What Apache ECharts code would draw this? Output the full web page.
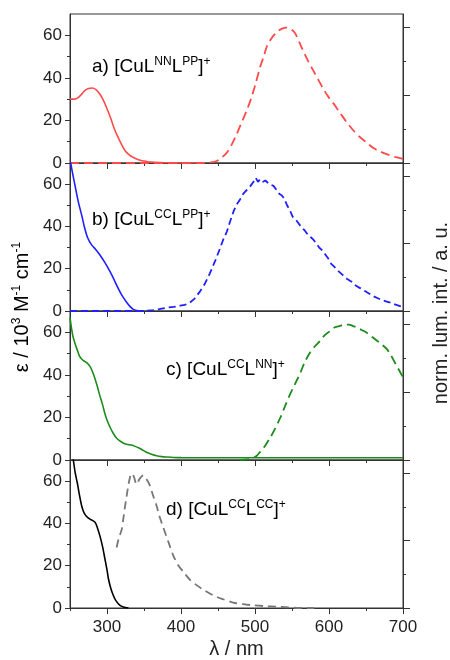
<!DOCTYPE html>
<html>
<head>
<meta charset="utf-8">
<script src="https://cdn.jsdelivr.net/npm/echarts@6.0.0/dist/echarts.min.js"></script>
<style>
html, body { margin: 0; padding: 0; background: #fff; }
#chart { width: 450px; height: 660px; }
</style>
</head>
<body>
<div id="chart"></div>
<script>
// ---- data ----
// x axis ticks
var xLabelTicks = [300, 400, 500, 600, 700];
var xMinorTicks = [250, 350, 450, 550, 650];
var yLabelTicks = [0, 20, 40, 60];
var rightMajorTicks = [0, 0.5, 1];

// a) [CuL(NN)L(PP)]+  absorption (eps / 10^3 M-1 cm-1) and emission (normalised)
var absA_nm  = [250, 255, 260, 265, 270, 275, 280, 285, 290, 295, 300, 305, 310, 315, 320, 325, 330, 335, 340, 345, 350, 355, 360, 370, 380, 400, 420];
var absA_eps = [30, 30, 30.5, 32, 34, 35, 35.2, 34.5, 32.5, 29.5, 25.5, 21, 16, 12, 8.5, 5.5, 3.8, 2.7, 1.9, 1.3, 0.9, 0.6, 0.4, 0.2, 0.1, 0, 0];
var emA_nm  = [250, 300, 350, 400, 430, 440, 448, 455, 462, 468, 475, 482, 489, 495, 500, 507, 512, 516, 521, 525, 530, 536, 542, 548, 554, 560, 565, 572, 579, 586, 592, 599, 606, 615, 624, 633, 642, 651, 660, 669, 678, 689, 700];
var emA_int = [0, 0, 0, 0, 0, 0.005, 0.015, 0.04, 0.077, 0.13, 0.21, 0.3, 0.39, 0.48, 0.57, 0.71, 0.79, 0.86, 0.91, 0.94, 0.97, 0.99, 1.0, 0.99, 0.96, 0.89, 0.83, 0.75, 0.68, 0.61, 0.55, 0.49, 0.44, 0.37, 0.30, 0.24, 0.19, 0.15, 0.11, 0.085, 0.065, 0.045, 0.03];

// b) [CuL(CC)L(PP)]+
var absB_nm  = [250, 253, 257, 261, 266, 270, 274, 279, 285, 290, 297, 304, 310, 315, 320, 326, 331, 335, 340, 345, 350];
var absB_eps = [72, 66, 59, 52, 45, 39, 34.5, 31.4, 29, 26.7, 23, 18.7, 14.5, 10.8, 7.5, 4.4, 2.2, 0.9, 0.2, 0, 0];
var emB_nm  = [250, 300, 345, 355, 363, 372, 381, 390, 399, 405, 412, 418, 425, 432, 439, 446, 452, 457, 462, 466, 471, 475, 480, 484, 489, 494, 498, 501, 504, 507, 511, 514, 518, 521, 525, 529, 533, 536, 539, 543, 547, 551, 555, 559, 563, 567, 571, 575, 579, 583, 587, 591, 595, 599, 603, 607, 612, 618, 624, 630, 636, 642, 648, 654, 660, 666, 672, 678, 684, 690, 696, 700];
var emB_int = [0, 0, 0, 0.003, 0.007, 0.015, 0.025, 0.03, 0.04, 0.045, 0.062, 0.09, 0.14, 0.2, 0.28, 0.37, 0.455, 0.53, 0.59, 0.66, 0.74, 0.79, 0.83, 0.87, 0.9, 0.93, 0.96, 0.99, 0.96, 0.98, 0.96, 0.97, 0.95, 0.94, 0.93, 0.9, 0.87, 0.86, 0.84, 0.79, 0.75, 0.7, 0.68, 0.65, 0.62, 0.6, 0.57, 0.55, 0.53, 0.5, 0.47, 0.45, 0.42, 0.39, 0.35, 0.33, 0.3, 0.27, 0.24, 0.22, 0.19, 0.17, 0.15, 0.13, 0.11, 0.095, 0.08, 0.07, 0.06, 0.047, 0.037, 0.03];

// c) [CuL(CC)L(NN)]+
var absC_nm  = [250, 252, 254, 257, 260, 263, 267, 270, 274, 277, 280, 283, 287, 290, 294, 297, 300, 304, 308, 313, 318, 323, 328, 333, 338, 344, 349, 354, 360, 367, 374, 381, 390, 400, 450, 500, 550, 600, 650, 700];
var absC_eps = [67, 62, 58, 54.5, 51.5, 48.7, 47, 46.3, 45.3, 44, 41.8, 39, 34.5, 30.6, 26, 22, 18.8, 15.5, 12.8, 10.2, 8.8, 7.8, 7.3, 7, 6.4, 5.5, 4.5, 3.5, 2.7, 2, 1.6, 1.4, 1.2, 1.1, 1.05, 1.05, 1.05, 1.05, 1.05, 1.05];
var emC_nm  = [480, 490, 497, 502, 507, 513, 520, 527, 534, 540, 547, 554, 561, 567, 574, 581, 588, 594, 601, 608, 615, 621, 627, 632, 637, 644, 651, 658, 665, 672, 678, 684, 689, 694, 700];
var emC_int = [0, 0.005, 0.015, 0.03, 0.06, 0.1, 0.16, 0.23, 0.31, 0.39, 0.48, 0.56, 0.64, 0.72, 0.79, 0.84, 0.88, 0.92, 0.95, 0.98, 0.99, 1.0, 1.0, 0.99, 0.98, 0.96, 0.94, 0.91, 0.88, 0.85, 0.82, 0.77, 0.72, 0.67, 0.61];

// d) [CuL(CC)L(CC)]+
var absD_nm  = [250, 254.5, 257, 260, 263, 266, 269, 272.5, 277, 281, 284, 287, 290.5, 294, 297.3, 300, 302, 305, 308.6, 312, 317.6, 322, 329];
var absD_eps = [80, 70, 64, 58.9, 53, 48, 45, 43.3, 42, 41.3, 40.5, 38, 34, 29, 23, 18, 13.7, 9.5, 5.9, 3.5, 1.2, 0.5, 0];
var emD_nm  = [313, 316, 319.7, 322, 324, 326.5, 328.8, 331, 333, 336, 340, 344, 349, 353, 358, 362, 367, 371, 376, 383, 389.6, 396, 403, 412, 421, 432, 443.6, 457, 470.6, 484, 497.6, 513, 529, 545, 560, 580];
var emD_int = [0.45, 0.52, 0.58, 0.66, 0.74, 0.83, 0.91, 0.97, 1.0, 0.98, 0.92, 0.96, 0.985, 0.96, 0.91, 0.84, 0.76, 0.68, 0.6, 0.49, 0.39, 0.32, 0.27, 0.21, 0.17, 0.13, 0.094, 0.065, 0.04, 0.028, 0.02, 0.014, 0.01, 0.005, 0, 0];

function pairs(xs, ys) {
  return xs.map(function (x, i) { return [x, ys[i]]; });
}

var FONT = 'Liberation Sans, Arial, sans-serif';
var AXIS_COLOR = '#333';
var TEXT_COLOR = '#222';

// panel settings (styles / layout)
var panels = [
  { abs: pairs(absA_nm, absA_eps), em: pairs(emA_nm, emA_int), color: '#ff4a4a', emColor: '#ff4a4a', dash: [9, 5], smoothEm: 0.3,
    label: '{n|a) [CuL}{s|NN}{n|L}{s|PP}{n|]}{s|+}', lx: 92, ly: 67 },
  { abs: pairs(absB_nm, absB_eps), em: pairs(emB_nm, emB_int), color: '#2020ff', emColor: '#2020ff', dash: [7, 4], smoothEm: 0,
    label: '{n|b) [CuL}{s|CC}{n|L}{s|PP}{n|]}{s|+}', lx: 92, ly: 220 },
  { abs: pairs(absC_nm, absC_eps), em: pairs(emC_nm, emC_int), color: '#1c8c1c', emColor: '#1c8c1c', dash: [9, 5], smoothEm: 0.3,
    label: '{n|c) [CuL}{s|CC}{n|L}{s|NN}{n|]}{s|+}', lx: 166, ly: 370 },
  { abs: pairs(absD_nm, absD_eps), em: pairs(emD_nm, emD_int), color: '#000', emColor: '#777', dash: [8, 5], smoothEm: 0.3,
    label: '{n|d) [CuL}{s|CC}{n|L}{s|CC}{n|]}{s|+}', lx: 166, ly: 510 }
];
var gridTops = [14, 163, 311, 460];
var gridHeights = [149, 148, 149, 149];

var richText = {
  n: { fontSize: 19, lineHeight: 22, fontFamily: FONT, color: TEXT_COLOR },
  s: { fontSize: 12, lineHeight: 16, verticalAlign: 'top', fontFamily: FONT, color: TEXT_COLOR }
};

var grids = [], xAxes = [], yAxes = [], series = [], graphics = [];

panels.forEach(function (p, i) {
  var last = i === panels.length - 1;
  grids.push({ left: 70, width: 333, top: gridTops[i], height: gridHeights[i],
    show: true, borderColor: AXIS_COLOR, borderWidth: 1, backgroundColor: 'transparent' });

  // main x axis, long ticks + labels
  xAxes.push({
    type: 'value', gridIndex: i, min: 250, max: 700, interval: 50, position: 'bottom',
    axisLine: { show: true, onZero: false, lineStyle: { color: AXIS_COLOR, width: 1 } },
    axisTick: { show: true, inside: false, length: 6, customValues: xLabelTicks, lineStyle: { color: AXIS_COLOR } },
    axisLabel: { show: last, customValues: xLabelTicks, margin: 11, fontSize: 17, fontFamily: FONT, color: TEXT_COLOR },
    splitLine: { show: false },
    name: last ? 'λ / nm' : '', nameLocation: 'middle', nameGap: 31,
    nameTextStyle: { fontSize: 20, fontFamily: FONT, color: TEXT_COLOR }
  });
  // overlay x axis for short minor ticks
  xAxes.push({
    type: 'value', gridIndex: i, min: 250, max: 700, interval: 50, position: 'bottom',
    axisLine: { show: false, onZero: false },
    axisTick: { show: true, inside: false, length: 3, customValues: xMinorTicks, lineStyle: { color: AXIS_COLOR } },
    axisLabel: { show: false },
    splitLine: { show: false }
  });

  // left: extinction coefficient
  yAxes.push({
    type: 'value', gridIndex: i, position: 'left', min: 0, max: 70, interval: 20,
    axisLine: { show: true, lineStyle: { color: AXIS_COLOR, width: 1 } },
    axisTick: { show: true, inside: false, length: 5, customValues: yLabelTicks, lineStyle: { color: AXIS_COLOR } },
    minorTick: { show: true, splitNumber: 2, length: 3, lineStyle: { color: AXIS_COLOR } },
    axisLabel: { customValues: yLabelTicks, margin: 8, fontSize: 17, fontFamily: FONT, color: TEXT_COLOR },
    splitLine: { show: false }, minorSplitLine: { show: false }
  });
  // right: normalised luminescence
  yAxes.push({
    type: 'value', gridIndex: i, position: 'right', min: 0, max: 1.1, interval: 0.5,
    axisLine: { show: true, lineStyle: { color: AXIS_COLOR, width: 1 } },
    axisTick: { show: true, inside: false, length: 7, customValues: rightMajorTicks, lineStyle: { color: AXIS_COLOR } },
    minorTick: { show: true, splitNumber: 2, length: 3, lineStyle: { color: AXIS_COLOR } },
    axisLabel: { show: false },
    splitLine: { show: false }, minorSplitLine: { show: false }
  });

  series.push({
    type: 'line', xAxisIndex: 2 * i, yAxisIndex: 2 * i, data: p.abs,
    showSymbol: false, smooth: 0.3, clip: true, z: 3,
    lineStyle: { color: p.color, width: 1.6 }
  });
  series.push({
    type: 'line', xAxisIndex: 2 * i, yAxisIndex: 2 * i + 1, data: p.em,
    showSymbol: false, smooth: p.smoothEm, clip: true, z: 2,
    lineStyle: { color: p.emColor, width: 1.8, type: p.dash }
  });

  graphics.push({
    type: 'text', x: p.lx, y: p.ly, z: 10,
    style: { text: p.label, rich: richText, verticalAlign: 'middle', align: 'left' }
  });
});

// shared axis titles
graphics.push({
  type: 'text', x: 22, y: 307, rotation: Math.PI / 2, z: 10,
  style: {
    text: '{n|ε / 10}{s|3}{n| M}{s|-1}{n| cm}{s|-1}',
    rich: {
      n: { fontSize: 20, lineHeight: 23, fontFamily: FONT, color: TEXT_COLOR },
      s: { fontSize: 12, lineHeight: 16, verticalAlign: 'top', fontFamily: FONT, color: TEXT_COLOR }
    },
    align: 'center', verticalAlign: 'middle'
  }
});
graphics.push({
  type: 'text', x: 441, y: 313, rotation: Math.PI / 2, z: 10,
  style: {
    text: 'norm. lum. int. / a. u.', fontSize: 20, fontFamily: FONT, fill: TEXT_COLOR,
    align: 'center', verticalAlign: 'middle'
  }
});

var chart = echarts.init(document.getElementById('chart'), null, { renderer: 'canvas' });
chart.setOption({
  animation: false,
  backgroundColor: '#fff',
  grid: grids,
  xAxis: xAxes,
  yAxis: yAxes,
  series: series,
  graphic: graphics
});
</script>
</body>
</html>
